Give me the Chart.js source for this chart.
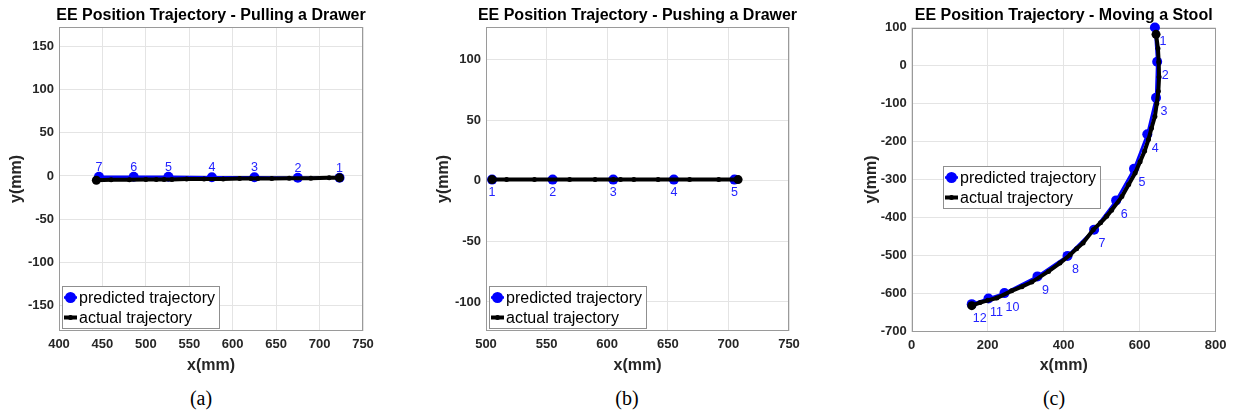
<!DOCTYPE html>
<html>
<head>
<meta charset="utf-8">
<title>EE Position Trajectory</title>
<script src="https://cdn.jsdelivr.net/npm/chart.js@4.4.1/dist/chart.umd.min.js"></script>
<style>
  body { margin: 0; background: #fff; width: 1234px; height: 413px; position: relative; overflow: hidden; }
  .panel { position: absolute; top: 0; }
  .cap { position: absolute; top: 386px; width: 60px; margin-left: -30px; text-align: center;
         font: 20px 'Liberation Serif', 'Times New Roman', serif; line-height: 24px; color: #000; }
</style>
</head>
<body>
<canvas id="chartPull" class="panel" style="left:0px" width="400" height="380"></canvas>
<canvas id="chartPush" class="panel" style="left:410px" width="400" height="380"></canvas>
<canvas id="chartStool" class="panel" style="left:830px" width="404" height="380"></canvas>
<div class="cap" style="left:201px">(a)</div>
<div class="cap" style="left:627px">(b)</div>
<div class="cap" style="left:1054px">(c)</div>

<script>
// ---- data (mm) ----
// (a) pulling a drawer
const pullPredX = [723, 675, 625, 576, 526, 486, 446];
const pullPredY = [-2, -2, -1.5, -1.5, -1, -1, -1];
const pullActX = [723, 711, 690, 665, 645, 629, 621, 608, 589, 567, 547, 530, 521, 512, 500, 481, 460, 443];
const pullActY = [-2, -2, -2.5, -2.5, -3, -3, -3, -3, -3.5, -3.5, -3.5, -4, -4, -4, -4, -4.5, -4.5, -5];
const pullLabels = ['1', '2', '3', '4', '5', '6', '7'];

// (b) pushing a drawer
const pushPredX = [505, 555, 605, 655, 705];
const pushPredY = [1, 1, 1, 1, 1];
const pushActX = [505, 517, 540, 569, 590, 605, 611, 622, 642, 668, 692, 708];
const pushActY = [1, 1, 1, 1, 1, 1, 1, 1, 1, 1, 1, 1];
const pushLabels = ['1', '2', '3', '4', '5'];

// (c) moving a stool
const stoolPredX = [640, 646, 643, 620, 585, 538, 480, 410, 331, 244, 202, 158];
const stoolPredY = [100, 10, -85, -181, -272, -355, -432, -501, -555, -599, -613, -628];
const stoolActX = [643, 648, 650, 651, 649, 645, 640, 631, 623, 613, 601, 588, 571, 553, 526, 513, 497, 478, 451, 434, 417, 390, 360, 316, 290, 263, 224, 200, 180, 158];
const stoolActY = [82, 45, 9, -30, -68, -100, -134, -165, -195, -225, -253, -283, -313, -345, -381, -397, -414, -432, -467, -482, -498, -520, -542, -570, -582, -593, -612, -618, -624, -632];
const stoolLabels = ['1', '2', '3', '4', '5', '6', '7', '8', '9', '10', '11', '12'];

// tick labels
const pullXTicks = [400, 450, 500, 550, 600, 650, 700, 750];
const pullYTicks = [-150, -100, -50, 0, 50, 100, 150];
const pushXTicks = [500, 550, 600, 650, 700, 750];
const pushYTicks = [-100, -50, 0, 50, 100];
const stoolXTicks = [0, 200, 400, 600, 800];
const stoolYTicks = [-700, -600, -500, -400, -300, -200, -100, 0, 100];

const BLUE = '#0000ff';
const INK = '#262626';
const GRID = '#e4e4e4';
const FONT = "'Liberation Sans', Arial, Helvetica, sans-serif";

Chart.defaults.font.family = FONT;

const toPoints = (xs, ys) => xs.map((x, i) => ({ x: x, y: ys[i] }));

// ================== PANEL DECORATION (box, labels, legend, title) ==================
const panelDecor = {
  id: 'panelDecor',
  beforeDatasetsDraw(chart) {
    const { ctx, chartArea: a } = chart;
    ctx.save();
    ctx.strokeStyle = '#9a9a9a';
    ctx.lineWidth = 1;
    ctx.strokeRect(Math.round(a.left) + 0.5, Math.round(a.top) + 0.5, Math.round(a.width) - 1, Math.round(a.height) - 1);
    ctx.restore();
  },
  afterDatasetsDraw(chart, args, o) {
    const { ctx, chartArea: a } = chart;
    ctx.save();

    // point numbers next to predicted markers
    ctx.font = '12.5px ' + FONT;
    ctx.fillStyle = '#2323ff';
    ctx.textAlign = 'center';
    ctx.textBaseline = 'middle';
    chart.getDatasetMeta(0).data.forEach((pt, i) => {
      ctx.fillText(o.labels[i], pt.x + o.labelOffset[0], pt.y + o.labelOffset[1]);
    });

    // legend box
    ctx.font = '16px ' + FONT;
    const texts = chart.data.datasets.map(d => d.label);
    const w = Math.ceil(17 + Math.max(...texts.map(t => ctx.measureText(t).width)) + 3);
    const h = 42;
    const left = Math.round(a.left + o.legendAt[0]), top = Math.round(a.top + o.legendAt[1]);
    ctx.fillStyle = '#fff';
    ctx.fillRect(left, top, w, h);
    ctx.strokeStyle = '#8f8f8f';
    ctx.lineWidth = 1;
    ctx.strokeRect(left + 0.5, top + 0.5, w, h);
    chart.data.datasets.forEach((ds, i) => {
      const cy = top + 11.5 + i * 20;
      ctx.strokeStyle = ds.borderColor;
      ctx.lineWidth = ds.borderWidth;
      ctx.beginPath();
      ctx.moveTo(left + 2, cy);
      ctx.lineTo(left + 15, cy);
      ctx.stroke();
      ctx.fillStyle = ds.borderColor;
      ctx.beginPath();
      ctx.arc(left + 8.5, cy, i === 0 ? 5.5 : 2.5, 0, Math.PI * 2);
      ctx.fill();
      ctx.fillStyle = '#000';
      ctx.textAlign = 'left';
      ctx.fillText(ds.label, left + 17, cy + 1);
    });

    // title centred on the plot box
    ctx.font = 'bold 16px ' + FONT;
    ctx.fillStyle = '#000';
    ctx.textAlign = 'center';
    ctx.fillText(o.title, (a.left + a.right) / 2, 15.5);
    ctx.restore();
  }
};

function axisCfg(min, max, ticks, title, isY, titlePad) {
  return {
    type: 'linear',
    min: min,
    max: max,
    afterBuildTicks: s => { s.ticks = ticks.map(v => ({ value: v })); },
    afterFit: s => { if (isY) s.width = 59; else s.height = 44; },
    grid: { color: GRID, drawTicks: false, lineWidth: 1 },
    border: { display: false },
    ticks: { padding: isY ? 5 : 6, color: INK, font: { size: 13, weight: 'bold' } },
    title: {
      display: true, text: title, color: INK,
      font: { size: 16, weight: 'bold' },
      padding: isY ? { top: titlePad, bottom: 0 } : { top: 0, bottom: 0 }
    }
  };
}

function makePanel(canvasId, p) {
  const nAct = p.actX.length;
  return new Chart(document.getElementById(canvasId), {
    type: 'scatter',
    plugins: [panelDecor],
    data: {
      datasets: [
        {
          label: 'predicted trajectory', data: toPoints(p.predX, p.predY), showLine: true,
          borderColor: BLUE, backgroundColor: BLUE, borderWidth: 2.5,
          pointRadius: 5, pointBorderWidth: 0, order: 1, clip: false
        },
        {
          label: 'actual trajectory', data: toPoints(p.actX, p.actY), showLine: true,
          borderColor: '#000', backgroundColor: '#000', borderWidth: 4,
          pointRadius: c => (c.dataIndex === 0 || c.dataIndex === nAct - 1) ? 4.5 : 2.5,
          pointBorderWidth: 0, order: 0, clip: false
        }
      ]
    },
    options: {
      responsive: false,
      animation: false,
      events: [],
      layout: { padding: p.pad },
      plugins: {
        legend: { display: false },
        tooltip: { enabled: false },
        panelDecor: { title: p.title, labels: p.labels, labelOffset: p.labelOffset, legendAt: p.legendAt }
      },
      scales: {
        x: axisCfg(p.xRange[0], p.xRange[1], p.xTicks, 'x(mm)', false),
        y: axisCfg(p.yRange[0], p.yRange[1], p.yTicks, 'y(mm)', true, p.yTitlePad)
      }
    }
  });
}

makePanel('chartPull', {
  title: 'EE Position Trajectory - Pulling a Drawer',
  predX: pullPredX, predY: pullPredY, actX: pullActX, actY: pullActY, labels: pullLabels,
  xTicks: pullXTicks, yTicks: pullYTicks, xRange: [400, 750], yRange: [-179, 172],
  pad: { left: 0, right: 37, top: 27, bottom: 5 }, yTitlePad: 7.4,
  labelOffset: [0, -9.5], legendAt: [3, 259]
});

makePanel('chartPush', {
  title: 'EE Position Trajectory - Pushing a Drawer',
  predX: pushPredX, predY: pushPredY, actX: pushActX, actY: pushActY, labels: pushLabels,
  xTicks: pushXTicks, yTicks: pushYTicks, xRange: [500, 750], yRange: [-124, 127],
  pad: { left: 17, right: 21, top: 27, bottom: 5 }, yTitlePad: 7.4,
  labelOffset: [0, 12.5], legendAt: [3, 259]
});

makePanel('chartStool', {
  title: 'EE Position Trajectory - Moving a Stool',
  predX: stoolPredX, predY: stoolPredY, actX: stoolActX, actY: stoolActY, labels: stoolLabels,
  xTicks: stoolXTicks, yTicks: stoolYTicks, xRange: [0, 800], yRange: [-700, 100],
  pad: { left: 22.7, right: 18.3, top: 27.5, bottom: 4.5 }, yTitlePad: 9.4,
  labelOffset: [8, 14], legendAt: [31, 138.5]
});
</script>
</body>
</html>
